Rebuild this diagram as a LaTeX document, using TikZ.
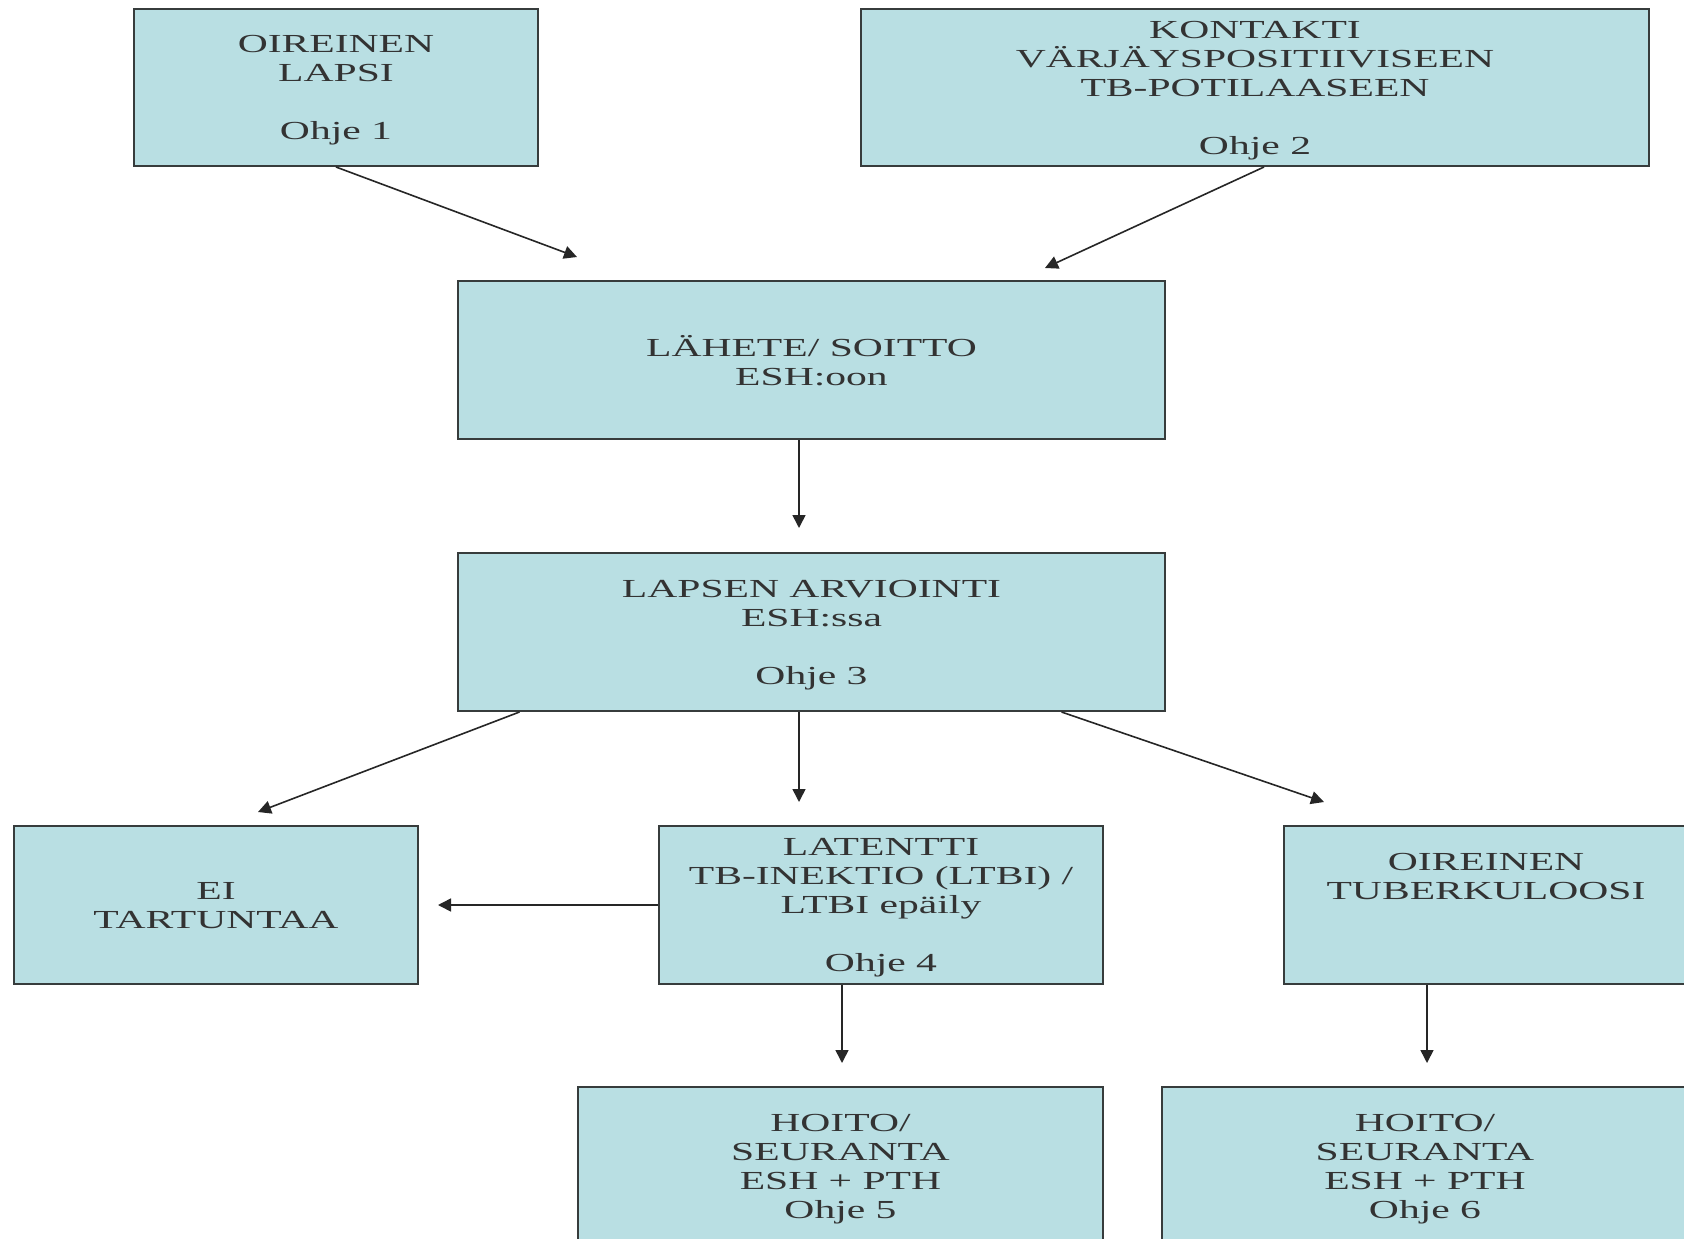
\documentclass[tikz,border=0pt]{standalone}
\usepackage{fontspec}
\setmainfont{Liberation Serif}[FakeStretch=1.6]
\usetikzlibrary{arrows.meta}
\definecolor{boxfill}{RGB}{185,223,227}
\definecolor{boxline}{RGB}{55,60,60}
\tikzset{
  fbox/.style={draw=boxline, line width=2pt, fill=boxfill, rectangle, inner sep=0pt,
    align=center, font=\fontsize{26}{29}\selectfont, text=black!80, text depth=0pt},
  conn/.style={line width=1.6pt, black!85, -{Triangle[length=13pt,width=13pt]}}
}
\begin{document}
\begin{tikzpicture}[x=1pt,y=-1pt]
\useasboundingbox[fill=white] (0,0) rectangle (1684,1239);

\node[fbox, minimum width=404pt, minimum height=157pt] (n1) at (336,87.5) {OIREINEN\\LAPSI\\[29pt]Ohje 1};
\node[fbox, minimum width=788pt, minimum height=157pt] (n2) at (1255,87.5) {KONTAKTI\\VÄRJÄYSPOSITIIVISEEN\\TB-POTILAASEEN\\[29pt]Ohje 2};
\node[fbox, minimum width=707pt, minimum height=158pt] (n3) at (811.5,360) {LÄHETE/ SOITTO\\ESH:oon};
\node[fbox, minimum width=707pt, minimum height=158pt] (n4) at (811.5,632) {LAPSEN ARVIOINTI\\ESH:ssa\\[29pt]Ohje 3};
\node[fbox, minimum width=404pt, minimum height=158pt] (n5) at (216,905) {EI\\TARTUNTAA};
\node[fbox, minimum width=444pt, minimum height=158pt] (n6) at (881,905) {LATENTTI\\TB-INEKTIO (LTBI) /\\LTBI epäily\\[29pt]Ohje 4};
\node[fbox, minimum width=404pt, minimum height=158pt] (n7) at (1486,905) {OIREINEN\\TUBERKULOOSI\\[29pt]\strut};
\node[fbox, minimum width=525pt, minimum height=158pt] (n8) at (840.5,1166) {HOITO/\\SEURANTA\\ESH + PTH\\Ohje 5};
\node[fbox, minimum width=526pt, minimum height=158pt] (n9) at (1425,1166) {HOITO/\\SEURANTA\\ESH + PTH\\Ohje 6};

\coordinate (t1) at (577,257);
\coordinate (t2) at (1045,268);
\coordinate (t3) at (799,528);
\coordinate (t4) at (258,812);
\coordinate (t5) at (799,802);
\coordinate (t6) at (1324,802);
\coordinate (t7) at (438,905);
\coordinate (t8) at (842,1063);
\coordinate (t9) at (1427,1063);

\draw[conn] (n1.south) -- (t1);
\draw[conn] ([xshift=9pt]n2.south) -- (t2);
\draw[conn] (t3 |- n3.south) -- (t3);
\draw[conn] ([xshift=-292pt]n4.south) -- (t4);
\draw[conn] (t5 |- n4.south) -- (t5);
\draw[conn] ([xshift=250pt]n4.south) -- (t6);
\draw[conn] (n6.west) -- (t7);
\draw[conn] (t8 |- n6.south) -- (t8);
\draw[conn] (t9 |- n7.south) -- (t9);
\end{tikzpicture}
\end{document}
